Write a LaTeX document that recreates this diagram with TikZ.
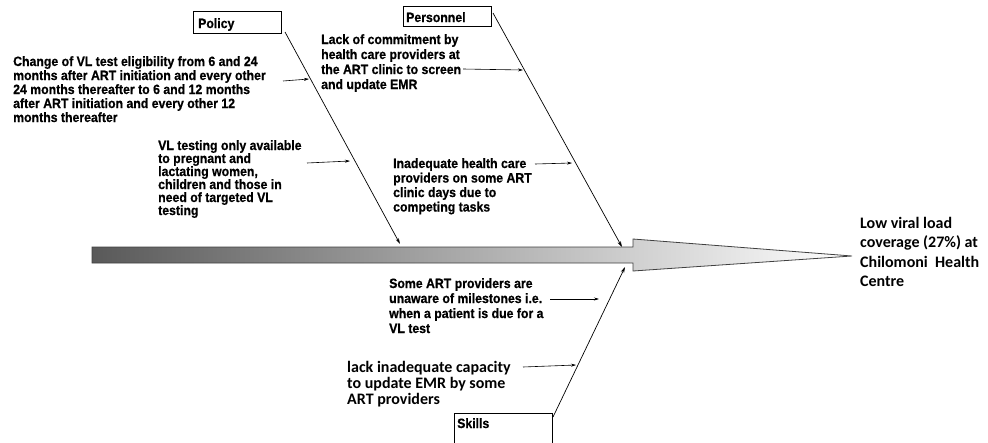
\documentclass[tikz,border=0pt]{standalone}
\usepackage{fontspec}
\usetikzlibrary{arrows.meta}
\newfontfamily\causefont[FakeStretch=0.91,FakeBold=0.6]{Liberation Sans}
\newfontfamily\calfont{Carlito}
\tikzset{
  cause/.style={anchor=base west,inner sep=0pt,align=left,
    font=\causefont\bfseries\fontsize{13.5}{#1}\selectfont},
  cause/.default=14,
  calcause/.style={anchor=base west,inner sep=0pt,align=left,
    font=\calfont\bfseries\fontsize{16}{#1}\selectfont},
  calcause/.default=16,
  catbox/.style={draw,line width=0.8pt},
  bone/.style={line width=0.7pt,-{Stealth[length=6pt,width=3.5pt]}},
  twig/.style={line width=0.6pt,-{Stealth[length=5pt,width=3pt]}}
}
\begin{document}
\begin{tikzpicture}[x=1pt,y=-1pt]
\useasboundingbox (0,0) rectangle (988,442);

%main spine
\draw[draw=black!75,line width=0.8pt,left color=black!65,right color=white]
  (92,247) -- (633,247) -- (633,239) -- (852,256) -- (633,271)
  -- (633,263) -- (92,263) -- cycle;
%base anchor = last line
\node[calcause=19.5] (cEffect) at (860,286.5)
  {Low viral load\\coverage (27\%) at\\Chilomoni\ \ Health\\Centre};

%category boxes
\draw[catbox] (193,11) rectangle (281,33);
\node[cause] (cPolicy) at (198,28) {Policy};
\draw[catbox] (403,6) rectangle (491,26);
\node[cause] (cPersonnel) at (406,22) {Personnel};
\draw[catbox] (454,413) rectangle (552,450);
\node[cause] (cSkills) at (457,428) {Skills};

%bones
\coordinate (cPolA) at (285,32);
\coordinate (cPolB) at (400,244);
\coordinate (cPerA) at (493,13);
\coordinate (cPerB) at (622,247);
\coordinate (cSkiA) at (553,417);
\coordinate (cSkiB) at (625,267);
\draw[bone] (cPolA) -- (cPolB);
\draw[bone] (cPerA) -- (cPerB);
\draw[bone] (cSkiA) -- (cSkiB);

%causes
\node[cause] (cEligib) at (13,122)
  {Change of VL test eligibility from 6 and 24\\months after ART initiation and every other\\24 months thereafter to 6 and 12 months\\after ART initiation and every other 12\\months thereafter};
\node[cause=13] (cTargeted) at (158,215)
  {VL testing only available\\to pregnant and\\lactating women,\\children and those in\\need of targeted VL\\testing};
\node[cause=15] (cCommit) at (321,89)
  {Lack of commitment by\\health care providers at\\the ART clinic to screen\\and update EMR};
\node[cause=14.5] (cStaff) at (393,211.5)
  {Inadequate health care\\providers on some ART\\clinic days due to\\competing tasks};
\node[cause=15] (cAware) at (389,333)
  {Some ART providers are\\unaware of milestones i.e.\\when a patient is due for a\\VL test};
\node[calcause] (cCapacity) at (347,404)
  {lack inadequate capacity\\to update EMR by some\\ART providers};

\coordinate (cT1a) at (283,81);  \coordinate (cT1b) at (309,79);
\coordinate (cT2a) at (307,163); \coordinate (cT2b) at (350,161);
\coordinate (cT3a) at (463,69);  \coordinate (cT3b) at (523,70);
\coordinate (cT4a) at (535,164); \coordinate (cT4b) at (572,163);
\coordinate (cT5a) at (550,299); \coordinate (cT5b) at (599,299);
\coordinate (cT6a) at (523,367); \coordinate (cT6b) at (576,365);
\foreach \i in {1,...,6}
  \draw[twig] (cT\i a) -- (cT\i b);

\end{tikzpicture}
\end{document}
